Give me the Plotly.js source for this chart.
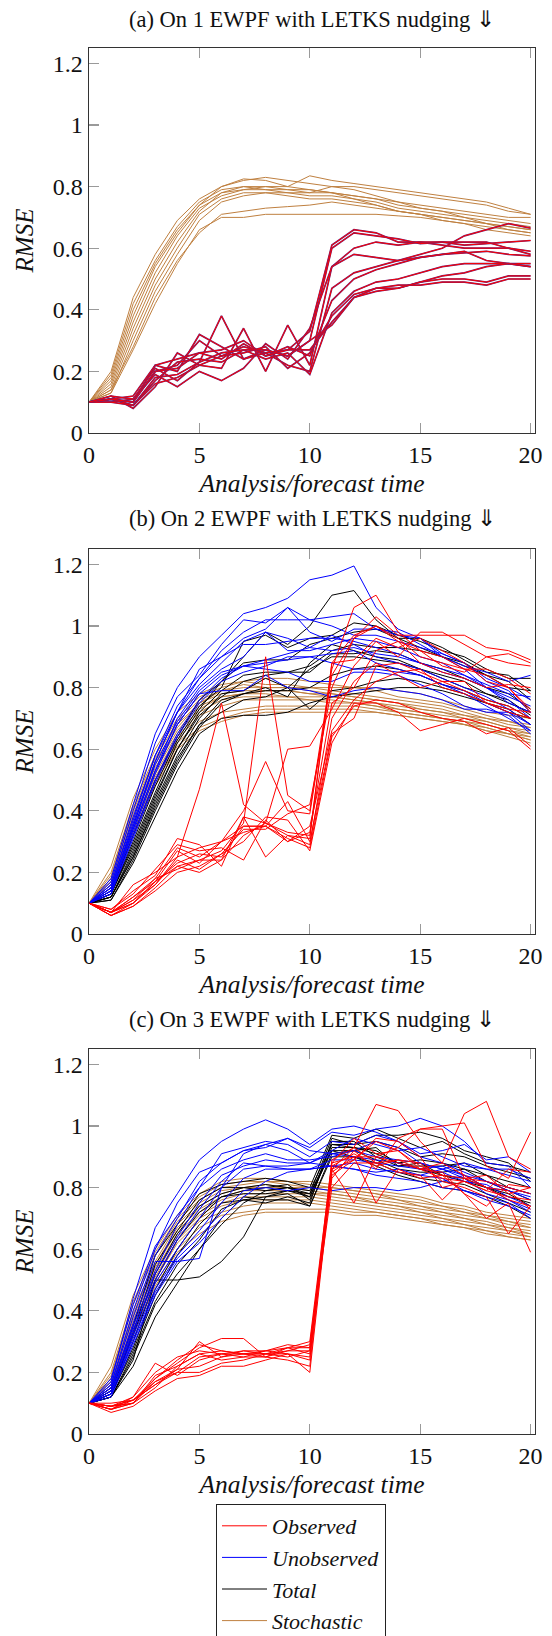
<!DOCTYPE html>
<html>
<head>
<meta charset="utf-8">
<script src="https://cdn.plot.ly/plotly-3.0.1.min.js"></script>
<style>html,body{margin:0;padding:0;background:#fff}#chart{width:552px;height:1636px}</style>
</head>
<body>
<div id="chart"></div>
<script>
// ---------- data ----------
const TIME = [0,1,2,3,4,5,6,7,8,9,10,11,12,13,14,15,16,17,18,19,20];
const X_TICKS = [0,5,10,15,20];
const Y_TICKS = [0,0.2,0.4,0.6,0.8,1,1.2];
const Y_TICK_TEXT = ['0','0.2','0.4','0.6','0.8','1','1.2'];
const PANEL_TITLES = ['(a) On 1 EWPF with LETKS nudging \u21D3','(b) On 2 EWPF with LETKS nudging \u21D3','(c) On 3 EWPF with LETKS nudging \u21D3'];
const SERIES_NAMES = ['Observed','Unobserved','Total','Stochastic'];

// panel (a)
const a_stochastic = [
 [0.1,0.18,0.40,0.55,0.66,0.74,0.80,0.82,0.83,0.82,0.81,0.80,0.80,0.79,0.78,0.77,0.76,0.75,0.74,0.72,0.71],
 [0.1,0.20,0.44,0.58,0.69,0.76,0.80,0.825,0.82,0.80,0.79,0.78,0.77,0.76,0.74,0.73,0.72,0.71,0.70,0.69,0.68],
 [0.1,0.16,0.36,0.52,0.64,0.73,0.77,0.79,0.80,0.80,0.835,0.82,0.81,0.80,0.79,0.78,0.77,0.76,0.75,0.73,0.71],
 [0.1,0.15,0.34,0.50,0.62,0.72,0.78,0.80,0.79,0.79,0.78,0.78,0.77,0.76,0.75,0.74,0.73,0.72,0.71,0.70,0.70],
 [0.1,0.17,0.38,0.54,0.65,0.74,0.78,0.79,0.79,0.78,0.77,0.77,0.76,0.75,0.73,0.72,0.71,0.70,0.69,0.68,0.67],
 [0.1,0.14,0.32,0.48,0.60,0.71,0.76,0.78,0.78,0.78,0.78,0.80,0.79,0.77,0.75,0.73,0.72,0.70,0.68,0.67,0.66],
 [0.1,0.19,0.42,0.56,0.67,0.75,0.79,0.80,0.80,0.79,0.79,0.78,0.76,0.74,0.72,0.71,0.70,0.69,0.68,0.66,0.65],
 [0.1,0.13,0.30,0.46,0.58,0.69,0.75,0.77,0.78,0.77,0.76,0.76,0.75,0.74,0.72,0.71,0.69,0.68,0.66,0.65,0.64],
 [0.1,0.14,0.28,0.44,0.56,0.65,0.71,0.72,0.73,0.735,0.74,0.75,0.74,0.73,0.72,0.71,0.70,0.69,0.68,0.67,0.66],
 [0.1,0.13,0.27,0.42,0.55,0.66,0.70,0.70,0.71,0.71,0.71,0.71,0.71,0.71,0.705,0.70,0.69,0.68,0.67,0.66,0.65]
];
const a_observed = [
 [0.1,0.11,0.10,0.20,0.22,0.30,0.25,0.28,0.26,0.27,0.33,0.61,0.66,0.65,0.62,0.62,0.61,0.60,0.60,0.60,0.58],
 [0.1,0.11,0.09,0.18,0.19,0.23,0.38,0.24,0.27,0.25,0.30,0.60,0.65,0.64,0.63,0.615,0.62,0.62,0.62,0.60,0.59],
 [0.1,0.12,0.08,0.15,0.26,0.22,0.21,0.34,0.20,0.35,0.22,0.54,0.60,0.62,0.61,0.62,0.62,0.61,0.615,0.62,0.625],
 [0.1,0.11,0.10,0.22,0.20,0.32,0.28,0.24,0.26,0.22,0.20,0.47,0.52,0.54,0.56,0.58,0.60,0.64,0.66,0.68,0.665],
 [0.1,0.10,0.11,0.19,0.15,0.20,0.17,0.21,0.29,0.24,0.34,0.54,0.58,0.57,0.56,0.57,0.58,0.585,0.59,0.58,0.575],
 [0.1,0.11,0.12,0.22,0.24,0.26,0.27,0.30,0.25,0.28,0.25,0.43,0.50,0.53,0.55,0.57,0.58,0.59,0.56,0.55,0.55],
 [0.1,0.11,0.09,0.17,0.23,0.24,0.23,0.27,0.24,0.26,0.19,0.39,0.46,0.49,0.50,0.52,0.54,0.55,0.55,0.55,0.54],
 [0.1,0.10,0.09,0.16,0.18,0.22,0.25,0.26,0.28,0.21,0.26,0.38,0.45,0.47,0.47,0.49,0.50,0.50,0.49,0.51,0.51],
 [0.1,0.11,0.10,0.20,0.21,0.26,0.24,0.29,0.25,0.27,0.27,0.36,0.44,0.47,0.48,0.48,0.49,0.49,0.48,0.50,0.50],
 [0.1,0.12,0.11,0.21,0.17,0.23,0.26,0.27,0.27,0.25,0.30,0.35,0.44,0.46,0.47,0.49,0.51,0.52,0.54,0.55,0.54]
];

// panel (b)
const b_stochastic = [
 [0.1,0.22,0.44,0.60,0.72,0.78,0.81,0.82,0.83,0.83,0.82,0.81,0.80,0.80,0.79,0.78,0.76,0.74,0.72,0.71,0.70],
 [0.1,0.20,0.42,0.58,0.70,0.77,0.80,0.82,0.81,0.81,0.80,0.80,0.80,0.79,0.77,0.76,0.75,0.73,0.71,0.69,0.68],
 [0.1,0.19,0.41,0.57,0.69,0.76,0.79,0.81,0.80,0.80,0.80,0.79,0.78,0.77,0.76,0.75,0.74,0.72,0.70,0.69,0.67],
 [0.1,0.18,0.40,0.56,0.68,0.75,0.79,0.80,0.80,0.80,0.79,0.78,0.77,0.76,0.75,0.74,0.73,0.71,0.70,0.68,0.67],
 [0.1,0.18,0.39,0.55,0.67,0.75,0.78,0.79,0.79,0.79,0.78,0.78,0.77,0.76,0.75,0.73,0.72,0.71,0.69,0.67,0.66],
 [0.1,0.17,0.38,0.54,0.66,0.74,0.77,0.78,0.79,0.79,0.78,0.77,0.76,0.75,0.74,0.73,0.72,0.70,0.69,0.67,0.65],
 [0.1,0.17,0.37,0.53,0.65,0.73,0.77,0.78,0.78,0.77,0.77,0.77,0.76,0.75,0.73,0.72,0.71,0.70,0.68,0.66,0.65],
 [0.1,0.16,0.36,0.52,0.64,0.72,0.76,0.77,0.77,0.77,0.76,0.76,0.75,0.74,0.73,0.72,0.70,0.69,0.68,0.66,0.64],
 [0.1,0.16,0.35,0.51,0.63,0.71,0.74,0.76,0.76,0.76,0.76,0.75,0.75,0.74,0.72,0.71,0.70,0.69,0.67,0.65,0.64],
 [0.1,0.15,0.34,0.50,0.62,0.69,0.72,0.73,0.74,0.74,0.74,0.74,0.74,0.73,0.72,0.71,0.70,0.68,0.67,0.65,0.63],
 [0.1,0.15,0.33,0.49,0.61,0.67,0.70,0.72,0.73,0.73,0.73,0.73,0.73,0.72,0.71,0.70,0.69,0.68,0.66,0.65,0.63],
 [0.1,0.14,0.32,0.48,0.60,0.66,0.69,0.71,0.72,0.72,0.72,0.72,0.72,0.72,0.71,0.70,0.69,0.68,0.66,0.64,0.62]
];
const b_total = [
 [0.1,0.14,0.32,0.50,0.64,0.76,0.82,0.90,0.98,0.94,1.00,1.10,1.115,1.02,0.96,0.93,0.90,0.88,0.84,0.80,0.79],
 [0.1,0.13,0.30,0.48,0.63,0.74,0.80,0.95,0.97,0.93,0.96,0.97,1.01,1.00,0.97,0.95,0.92,0.90,0.86,0.83,0.83],
 [0.1,0.13,0.29,0.46,0.62,0.73,0.82,0.88,0.89,0.89,0.94,0.96,0.98,0.99,0.96,0.96,0.93,0.89,0.85,0.84,0.79],
 [0.1,0.12,0.27,0.44,0.60,0.72,0.79,0.84,0.85,0.85,0.87,0.92,0.94,0.93,0.93,0.92,0.90,0.87,0.84,0.82,0.76],
 [0.1,0.13,0.28,0.45,0.60,0.71,0.77,0.82,0.84,0.85,0.85,0.91,0.91,0.92,0.91,0.88,0.86,0.83,0.80,0.78,0.73],
 [0.1,0.12,0.26,0.43,0.58,0.70,0.78,0.79,0.83,0.80,0.86,0.90,0.90,0.89,0.88,0.86,0.84,0.82,0.78,0.76,0.71],
 [0.1,0.12,0.25,0.41,0.56,0.68,0.76,0.78,0.80,0.77,0.88,0.94,0.92,0.90,0.89,0.86,0.83,0.80,0.78,0.75,0.72],
 [0.1,0.11,0.24,0.40,0.55,0.67,0.75,0.78,0.79,0.79,0.80,0.84,0.86,0.87,0.86,0.84,0.81,0.79,0.76,0.74,0.70],
 [0.1,0.12,0.25,0.42,0.57,0.68,0.72,0.76,0.77,0.80,0.73,0.79,0.80,0.82,0.83,0.82,0.80,0.78,0.75,0.73,0.68],
 [0.1,0.11,0.23,0.38,0.53,0.65,0.70,0.71,0.71,0.72,0.75,0.77,0.78,0.79,0.80,0.80,0.79,0.77,0.75,0.72,0.70]
];
const b_unobserved = [
 [0.1,0.18,0.42,0.65,0.80,0.90,0.97,1.04,1.06,1.09,1.15,1.165,1.195,1.06,0.99,0.96,0.91,0.88,0.83,0.80,0.76],
 [0.1,0.17,0.40,0.62,0.77,0.84,0.94,1.02,1.01,1.06,1.02,1.03,1.04,0.99,0.98,0.94,0.90,0.87,0.85,0.82,0.84],
 [0.1,0.16,0.38,0.58,0.74,0.83,0.92,0.98,1.02,1.02,1.02,1.00,0.97,0.97,0.95,0.93,0.91,0.88,0.82,0.79,0.72],
 [0.1,0.15,0.36,0.56,0.72,0.86,0.90,0.96,0.99,1.06,0.98,0.95,0.99,0.99,0.97,0.96,0.90,0.86,0.80,0.77,0.74],
 [0.1,0.15,0.35,0.56,0.72,0.81,0.88,0.95,0.98,0.92,0.92,0.94,0.96,0.95,0.93,0.90,0.88,0.84,0.81,0.78,0.77],
 [0.1,0.16,0.37,0.58,0.72,0.83,0.90,0.94,0.94,0.95,0.96,0.96,0.95,0.93,0.91,0.88,0.86,0.84,0.80,0.76,0.70],
 [0.1,0.14,0.34,0.53,0.70,0.80,0.86,0.90,0.98,0.96,0.93,0.92,0.93,0.91,0.90,0.88,0.85,0.83,0.80,0.75,0.72],
 [0.1,0.15,0.35,0.55,0.69,0.79,0.85,0.87,0.89,0.91,0.93,0.97,0.94,0.90,0.88,0.86,0.83,0.80,0.77,0.73,0.68],
 [0.1,0.14,0.33,0.52,0.68,0.78,0.84,0.87,0.88,0.89,0.90,0.91,0.92,0.88,0.86,0.84,0.81,0.79,0.75,0.72,0.66],
 [0.1,0.13,0.32,0.50,0.65,0.76,0.83,0.87,0.86,0.85,0.82,0.82,0.85,0.85,0.84,0.81,0.78,0.74,0.72,0.72,0.68],
 [0.1,0.14,0.34,0.53,0.68,0.78,0.79,0.79,0.84,0.80,0.79,0.77,0.79,0.80,0.79,0.78,0.76,0.73,0.73,0.71,0.65],
 [0.1,0.13,0.31,0.49,0.64,0.75,0.82,0.85,0.87,0.90,0.90,0.88,0.86,0.86,0.85,0.84,0.81,0.78,0.74,0.70,0.66]
];
const b_observed = [
 [0.1,0.07,0.10,0.16,0.25,0.47,0.75,0.42,0.36,0.33,0.32,0.88,0.97,1.00,0.96,0.90,0.88,0.86,0.84,0.80,0.72],
 [0.1,0.06,0.09,0.15,0.22,0.24,0.27,0.36,0.90,0.45,0.40,0.86,1.06,1.10,0.98,0.92,0.87,0.85,0.90,0.88,0.87],
 [0.1,0.07,0.12,0.18,0.28,0.25,0.30,0.40,0.56,0.40,0.39,0.84,0.96,1.03,0.97,0.97,0.97,0.97,0.93,0.92,0.89],
 [0.1,0.08,0.14,0.19,0.31,0.29,0.22,0.38,0.36,0.60,0.61,0.73,0.87,0.95,0.90,0.98,0.98,0.94,0.90,0.91,0.88],
 [0.1,0.07,0.16,0.20,0.25,0.28,0.30,0.33,0.35,0.43,0.30,0.65,0.70,0.87,0.88,0.85,0.82,0.79,0.76,0.74,0.70],
 [0.1,0.06,0.10,0.17,0.23,0.26,0.25,0.35,0.35,0.31,0.28,0.64,0.74,0.76,0.75,0.72,0.70,0.69,0.65,0.67,0.61],
 [0.1,0.07,0.11,0.16,0.24,0.21,0.26,0.30,0.38,0.37,0.27,0.62,0.75,0.75,0.72,0.66,0.68,0.70,0.68,0.66,0.60],
 [0.1,0.08,0.13,0.21,0.29,0.27,0.28,0.24,0.37,0.30,0.35,0.66,0.76,0.82,0.85,0.86,0.80,0.78,0.75,0.72,0.70],
 [0.1,0.07,0.11,0.18,0.21,0.24,0.24,0.38,0.25,0.32,0.29,0.70,0.82,0.88,0.84,0.80,0.82,0.82,0.75,0.73,0.72],
 [0.1,0.06,0.09,0.14,0.20,0.22,0.26,0.34,0.34,0.39,0.42,0.80,0.96,1.00,0.95,0.88,0.85,0.83,0.80,0.81,0.80],
 [0.1,0.07,0.10,0.17,0.22,0.20,0.24,0.32,0.36,0.32,0.31,0.88,0.89,0.96,0.93,0.96,0.92,0.88,0.82,0.80,0.73],
 [0.1,0.07,0.12,0.17,0.27,0.23,0.30,0.35,0.35,0.30,0.33,0.75,0.80,0.92,0.95,0.92,0.90,0.86,0.86,0.83,0.78]
];

// panel (c)
const c_stochastic = [
 [0.1,0.22,0.45,0.60,0.71,0.78,0.82,0.83,0.83,0.82,0.82,0.81,0.80,0.79,0.78,0.77,0.75,0.74,0.72,0.71,0.70],
 [0.1,0.20,0.43,0.59,0.70,0.77,0.81,0.82,0.82,0.82,0.81,0.80,0.79,0.78,0.77,0.76,0.74,0.73,0.71,0.70,0.69],
 [0.1,0.19,0.42,0.58,0.69,0.76,0.80,0.81,0.82,0.81,0.80,0.80,0.79,0.78,0.76,0.75,0.74,0.72,0.71,0.69,0.68],
 [0.1,0.18,0.40,0.56,0.68,0.75,0.79,0.80,0.81,0.80,0.80,0.79,0.78,0.77,0.76,0.74,0.73,0.72,0.70,0.69,0.67],
 [0.1,0.18,0.39,0.55,0.67,0.74,0.78,0.80,0.80,0.80,0.79,0.78,0.77,0.76,0.75,0.74,0.72,0.71,0.70,0.68,0.67],
 [0.1,0.17,0.38,0.54,0.66,0.73,0.77,0.79,0.79,0.79,0.78,0.78,0.77,0.75,0.74,0.73,0.72,0.70,0.69,0.67,0.66],
 [0.1,0.17,0.37,0.53,0.65,0.72,0.76,0.78,0.78,0.78,0.78,0.77,0.76,0.75,0.74,0.72,0.71,0.70,0.68,0.67,0.65],
 [0.1,0.16,0.36,0.52,0.64,0.71,0.75,0.77,0.77,0.77,0.77,0.76,0.75,0.74,0.73,0.72,0.70,0.69,0.68,0.66,0.65],
 [0.1,0.16,0.35,0.51,0.63,0.70,0.74,0.76,0.76,0.76,0.76,0.75,0.74,0.73,0.72,0.71,0.70,0.68,0.67,0.66,0.64],
 [0.1,0.15,0.34,0.50,0.62,0.69,0.72,0.74,0.75,0.75,0.75,0.74,0.73,0.72,0.71,0.70,0.69,0.68,0.66,0.65,0.64],
 [0.1,0.15,0.33,0.49,0.60,0.67,0.71,0.72,0.73,0.73,0.73,0.73,0.72,0.72,0.71,0.70,0.68,0.67,0.66,0.64,0.63],
 [0.1,0.14,0.32,0.48,0.59,0.65,0.69,0.71,0.72,0.72,0.72,0.72,0.71,0.71,0.70,0.69,0.68,0.67,0.65,0.64,0.63]
];
const c_total = [
 [0.1,0.15,0.35,0.58,0.68,0.78,0.81,0.82,0.83,0.82,0.80,0.97,0.96,0.99,0.96,0.93,0.95,0.91,0.88,0.87,0.85],
 [0.1,0.14,0.33,0.55,0.66,0.76,0.80,0.80,0.81,0.80,0.78,0.96,0.94,0.97,0.97,0.98,0.96,0.92,0.90,0.88,0.82],
 [0.1,0.14,0.32,0.52,0.65,0.74,0.78,0.80,0.79,0.80,0.77,0.94,0.94,0.95,0.93,0.90,0.91,0.90,0.87,0.85,0.83],
 [0.1,0.13,0.30,0.50,0.63,0.72,0.77,0.79,0.80,0.81,0.76,0.93,0.93,0.92,0.88,0.89,0.88,0.86,0.84,0.82,0.80],
 [0.1,0.13,0.28,0.47,0.60,0.70,0.77,0.78,0.78,0.79,0.78,0.92,0.92,0.93,0.87,0.87,0.87,0.88,0.84,0.80,0.78],
 [0.1,0.13,0.27,0.45,0.58,0.68,0.75,0.76,0.77,0.78,0.74,0.91,0.92,0.89,0.86,0.85,0.85,0.86,0.82,0.79,0.76],
 [0.1,0.12,0.26,0.43,0.55,0.63,0.73,0.76,0.75,0.77,0.75,0.95,0.95,0.90,0.87,0.88,0.84,0.83,0.80,0.78,0.74],
 [0.1,0.12,0.25,0.42,0.52,0.60,0.70,0.77,0.76,0.76,0.74,0.90,0.90,0.88,0.85,0.83,0.82,0.81,0.78,0.75,0.72],
 [0.1,0.12,0.24,0.50,0.50,0.51,0.56,0.64,0.77,0.79,0.77,0.92,0.90,0.87,0.84,0.82,0.80,0.79,0.77,0.74,0.70],
 [0.1,0.12,0.22,0.38,0.49,0.60,0.68,0.75,0.79,0.80,0.79,0.94,0.93,0.91,0.88,0.86,0.84,0.82,0.80,0.77,0.75]
];
const c_unobserved = [
 [0.1,0.17,0.44,0.67,0.78,0.89,0.95,0.99,1.02,0.99,0.94,0.99,1.00,0.98,0.95,0.90,0.88,0.85,0.82,0.79,0.77],
 [0.1,0.16,0.40,0.60,0.75,0.85,0.88,0.92,0.94,0.96,0.93,0.98,0.97,0.99,1.00,1.025,1.00,0.95,0.88,0.87,0.80],
 [0.1,0.18,0.42,0.61,0.71,0.80,0.91,0.93,0.95,0.94,0.90,0.95,0.94,0.97,0.95,0.91,0.92,0.94,0.89,0.90,0.85],
 [0.1,0.15,0.36,0.56,0.56,0.57,0.80,0.91,0.94,0.92,0.88,0.92,0.96,0.94,0.92,0.93,0.90,0.87,0.86,0.86,0.83],
 [0.1,0.16,0.38,0.58,0.70,0.82,0.88,0.92,0.93,0.96,0.92,0.91,0.92,0.95,0.93,0.88,0.86,0.88,0.86,0.84,0.82],
 [0.1,0.15,0.35,0.53,0.68,0.80,0.86,0.89,0.91,0.89,0.89,0.90,0.92,0.90,0.89,0.88,0.86,0.84,0.82,0.80,0.78],
 [0.1,0.14,0.33,0.52,0.64,0.75,0.84,0.87,0.89,0.88,0.88,0.91,0.90,0.89,0.88,0.86,0.87,0.84,0.80,0.79,0.76],
 [0.1,0.14,0.34,0.50,0.63,0.73,0.82,0.88,0.87,0.86,0.86,0.89,0.89,0.88,0.87,0.86,0.85,0.82,0.81,0.77,0.74],
 [0.1,0.13,0.32,0.49,0.60,0.70,0.80,0.86,0.87,0.87,0.88,0.87,0.88,0.86,0.85,0.84,0.86,0.83,0.78,0.76,0.72],
 [0.1,0.13,0.31,0.47,0.58,0.66,0.75,0.83,0.86,0.86,0.86,0.87,0.86,0.84,0.83,0.82,0.80,0.79,0.76,0.74,0.71],
 [0.1,0.13,0.30,0.46,0.57,0.64,0.72,0.79,0.80,0.79,0.80,0.79,0.80,0.80,0.79,0.80,0.82,0.84,0.80,0.76,0.73],
 [0.1,0.12,0.29,0.45,0.56,0.62,0.70,0.77,0.82,0.85,0.86,0.87,0.86,0.85,0.86,0.84,0.83,0.79,0.77,0.75,0.70]
];
const c_observed = [
 [0.1,0.08,0.10,0.19,0.22,0.26,0.27,0.26,0.26,0.27,0.27,0.89,0.93,1.07,1.05,0.95,0.88,0.84,0.80,0.76,0.74],
 [0.1,0.09,0.11,0.16,0.21,0.30,0.25,0.26,0.25,0.28,0.30,0.88,0.96,0.91,0.92,0.86,0.88,1.04,1.08,0.90,0.86],
 [0.1,0.07,0.09,0.14,0.18,0.19,0.22,0.22,0.24,0.26,0.25,0.86,0.75,0.90,0.93,0.99,1.00,1.01,0.87,0.83,0.98],
 [0.1,0.08,0.11,0.18,0.23,0.28,0.31,0.31,0.25,0.27,0.29,0.84,0.89,0.96,0.95,0.90,0.80,0.82,0.79,0.86,0.85],
 [0.1,0.09,0.12,0.20,0.25,0.27,0.26,0.27,0.27,0.26,0.24,0.88,0.90,0.75,0.86,0.83,0.84,0.78,0.74,0.81,0.80],
 [0.1,0.09,0.10,0.17,0.20,0.25,0.26,0.25,0.27,0.29,0.28,0.80,0.88,0.88,0.89,0.88,0.82,0.80,0.77,0.65,0.74],
 [0.1,0.08,0.12,0.23,0.19,0.24,0.26,0.26,0.26,0.28,0.26,0.87,0.91,0.87,0.89,0.86,0.85,0.78,0.70,0.75,0.59],
 [0.1,0.09,0.10,0.15,0.22,0.26,0.24,0.25,0.25,0.24,0.22,0.86,0.89,0.95,0.92,0.87,0.84,0.83,0.82,0.80,0.78],
 [0.1,0.10,0.11,0.17,0.21,0.22,0.25,0.27,0.26,0.25,0.27,0.83,0.92,0.86,0.96,0.99,0.99,0.83,0.80,0.79,0.73],
 [0.1,0.08,0.10,0.18,0.24,0.29,0.27,0.26,0.27,0.28,0.28,0.86,0.93,0.88,0.85,0.84,0.76,0.83,0.84,0.78,0.80],
 [0.1,0.09,0.11,0.16,0.20,0.20,0.23,0.24,0.26,0.26,0.20,0.85,0.90,0.90,0.88,0.86,0.83,0.82,0.79,0.77,0.76]
];

// ---------- styling ----------
const COLORS = {Observed:'#ff0000', Unobserved:'#0000ff', Total:'#000000', Stochastic:'#bf8040'};
const RANK = {Observed:1, Unobserved:2, Total:3, Stochastic:4};
const SERIF = 'Liberation Serif';

const traces = [];
const shown = {};
function addSet(rows, name, ax, opts) {
  opts = opts || {};
  rows.forEach(function(row){
    if (opts.under) {
      traces.push({x: TIME, y: row, type:'scatter', mode:'lines', xaxis: ax.x, yaxis: ax.y,
        line:{color: opts.under, width: 1.7}, showlegend:false, hoverinfo:'skip'});
    }
    const show = opts.legend && !shown[name];
    if (show) shown[name] = true;
    traces.push({x: TIME, y: row, type:'scatter', mode:'lines', xaxis: ax.x, yaxis: ax.y,
      name: name, legendgroup: name, legendrank: RANK[name], showlegend: !!show,
      line:{color: COLORS[name], width: opts.width || 1}});
  });
}
const AX = [{x:'x', y:'y'}, {x:'x2', y:'y2'}, {x:'x3', y:'y3'}];
addSet(a_stochastic, 'Stochastic', AX[0]);
addSet(a_observed, 'Observed', AX[0], {under:'#66207a', width:1});

addSet(b_stochastic, 'Stochastic', AX[1], {legend:true});
addSet(b_total, 'Total', AX[1], {legend:true});
addSet(b_unobserved, 'Unobserved', AX[1], {legend:true});
addSet(b_observed, 'Observed', AX[1], {legend:true});

addSet(c_stochastic, 'Stochastic', AX[2]);
addSet(c_total, 'Total', AX[2]);
addSet(c_unobserved, 'Unobserved', AX[2]);
addSet(c_observed, 'Observed', AX[2]);

const W = 552, H = 1636;
const XDOM = [89/W, 535/W];
const PANELS = [[48,433],[549,934],[1049,1434]]; // pixel top/bottom
function ydom(p){ return [1 - p[1]/H, 1 - p[0]/H]; }

function xaxisCfg(i){
  return {domain: XDOM, anchor: AX[i].y, range:[0,20.2], tickvals: X_TICKS, ticks:'inside', ticklen:10,
    tickwidth:1.3, tickcolor:'#9a9a9a', mirror:'ticks', showline:true, linecolor:'#333', linewidth:1.4,
    showgrid:false, zeroline:false, fixedrange:true, automargin:false,
    tickfont:{family:SERIF, size:24, color:'#111'},
    title:{text:'Analysis/forecast time', font:{family:SERIF, size:25.5, style:'italic', color:'#111'}, standoff:7}};
}
function yaxisCfg(i){
  return {domain: ydom(PANELS[i]), anchor: AX[i].x, range:[0,1.25], tickvals: Y_TICKS, ticktext: Y_TICK_TEXT,
    ticks:'inside', ticklen:10, tickwidth:1.3, tickcolor:'#9a9a9a', mirror:true, showline:true,
    linecolor:'#333', linewidth:1.4, showgrid:false, zeroline:false, fixedrange:true, automargin:false,
    tickfont:{family:SERIF, size:24, color:'#111'},
    title:{text:'RMSE', font:{family:SERIF, size:25, style:'italic', color:'#111'}, standoff:12}};
}

const annotations = PANEL_TITLES.map(function(t, i){
  return {text: t, xref:'paper', yref:'paper', x: 312/W, y: 1 - [19, 518, 1019][i]/H,
    xanchor:'center', yanchor:'middle', showarrow:false,
    font:{family:SERIF, size:22.5, color:'#111'}};
});

const layout = {
  width: W, height: H, margin:{l:0, r:0, t:0, b:0, autoexpand:false}, paper_bgcolor:'#fff', plot_bgcolor:'#fff',
  showlegend: true,
  legend: {x: 216/W, xanchor:'left', y: 1 - 1504/H, yanchor:'top', bordercolor:'#222', borderwidth:1,
    bgcolor:'#fff', traceorder:'normal', itemwidth:45,
    font:{family:SERIF, size:22, style:'italic', color:'#111'}},
  xaxis: xaxisCfg(0), yaxis: yaxisCfg(0),
  xaxis2: xaxisCfg(1), yaxis2: yaxisCfg(1),
  xaxis3: xaxisCfg(2), yaxis3: yaxisCfg(2),
  annotations: annotations
};

Plotly.newPlot('chart', traces, layout, {displayModeBar:false, staticPlot:true});
</script>
</body>
</html>
